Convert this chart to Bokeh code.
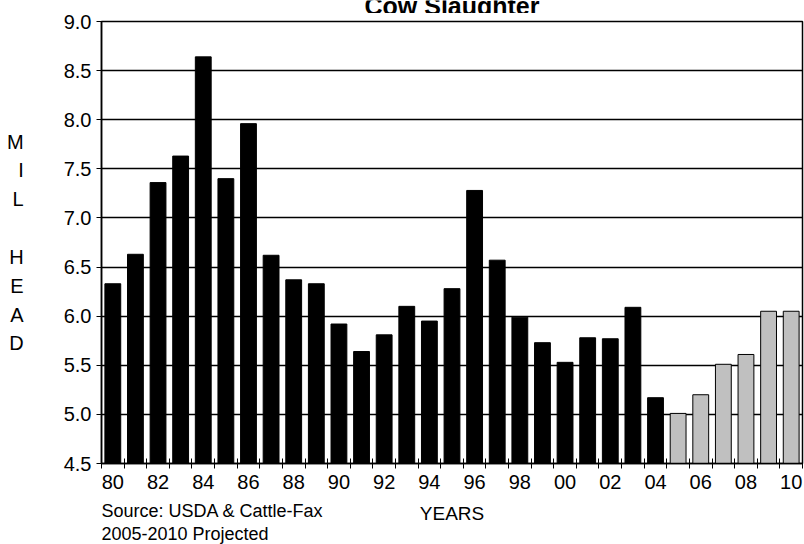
from bokeh.plotting import figure
from bokeh.layouts import column
from bokeh.models import Range1d, FixedTicker, Label, ColumnDataSource, PrintfTickFormatter
from bokeh.embed import file_html
from bokeh.resources import INLINE

# ---------------- data ----------------
actual_years = list(range(1980, 2005))
actual_values = [6.33, 6.63, 7.36, 7.63, 8.64, 7.40, 7.96, 6.62, 6.37, 6.33,
                 5.92, 5.64, 5.81, 6.10, 5.95, 6.28, 7.28, 6.57, 5.99, 5.73,
                 5.53, 5.78, 5.77, 6.09, 5.17]
proj_years = list(range(2005, 2011))
proj_values = [5.01, 5.20, 5.51, 5.61, 6.05, 6.05]
label_years = list(range(1980, 2011, 2))
tick_labels = ["80", "82", "84", "86", "88", "90", "92", "94", "96", "98",
               "00", "02", "04", "06", "08", "10"]
y_ticks = [4.5, 5.0, 5.5, 6.0, 6.5, 7.0, 7.5, 8.0, 8.5, 9.0]
title_text = "Cow Slaughter"
ylabel_letters = ["M", "I", "L", "", "H", "E", "A", "D"]
xlabel_text = "YEARS"
source_lines = ["Source:  USDA & Cattle-Fax", "2005-2010 Projected"]

all_years = actual_years + proj_years
Y0, Y1 = y_ticks[0], y_ticks[-1]
X0, X1 = all_years[0] - 0.5, all_years[-1] + 0.5

FONT = "Liberation Sans"
W = 804
H_HEAD, H_MAIN, H_FOOT = 13, 483, 48
FRAME_L, FRAME_R = 101, 802   # frame edges shared by the stacked figures


def strip(height):
    s = figure(width=W, height=height, output_backend="svg", toolbar_location=None,
               x_range=Range1d(FRAME_L, FRAME_R), y_range=Range1d(0, height),
               x_axis_type=None, y_axis_type=None,
               min_border_left=FRAME_L, min_border_right=W - FRAME_R,
               min_border_top=0, min_border_bottom=0)
    s.outline_line_color = None
    s.background_fill_color = "white"
    s.border_fill_color = "white"
    s.grid.visible = False
    return s


# ---------------- header (title, cut at the top like the original) ----------------
hdr = strip(H_HEAD)
hdr.add_layout(Label(x=(FRAME_L + FRAME_R) / 2, y=H_HEAD - 5, text=title_text,
                     text_font=FONT, text_font_size="25px", text_font_style="bold",
                     text_align="center", text_baseline="middle", text_color="black"))

# ---------------- main chart ----------------
p = figure(width=W, height=H_MAIN, output_backend="svg", toolbar_location=None,
           x_range=Range1d(X0, X1), y_range=Range1d(Y0, Y1),
           min_border_left=FRAME_L, min_border_right=W - FRAME_R, min_border_top=8,
           min_border_bottom=33)
p.background_fill_color = "white"
p.border_fill_color = "white"
p.outline_line_color = "black"
p.outline_line_width = 1.5

src_a = ColumnDataSource(dict(x=actual_years, top=actual_values))
src_p = ColumnDataSource(dict(x=proj_years, top=proj_values))
p.vbar(x="x", top="top", bottom=Y0, width=0.7, source=src_a,
       fill_color="black", line_color="black", line_width=1)
p.vbar(x="x", top="top", bottom=Y0, width=0.7, source=src_p,
       fill_color="#C0C0C0", line_color="black", line_width=1)

# x axis: labels at even-year centers, ticks at category boundaries
xa = p.xaxis[0]
xa.ticker = FixedTicker(ticks=label_years,
                        minor_ticks=[y - 0.5 for y in all_years] + [X1])
xa.major_label_overrides = {y: t for y, t in zip(label_years, tick_labels)}
xa.major_tick_in = 0
xa.major_tick_out = 0
xa.minor_tick_in = 5
xa.minor_tick_out = 5
xa.minor_tick_line_color = "black"
xa.axis_line_color = "black"
xa.axis_line_width = 1.5
xa.major_label_text_font = FONT
xa.major_label_text_font_size = "20px"
xa.major_label_text_color = "black"
xa.major_label_standoff = 6

ya = p.yaxis[0]
ya.ticker = FixedTicker(ticks=y_ticks)
ya.formatter = PrintfTickFormatter(format="%.1f")
ya.major_tick_in = 0
ya.major_tick_out = 5
ya.minor_tick_line_color = None
ya.major_tick_line_color = "black"
ya.axis_line_color = "black"
ya.axis_line_width = 1.5
ya.major_label_text_font = FONT
ya.major_label_text_font_size = "20px"
ya.major_label_text_color = "black"
ya.major_label_standoff = 5
ya.axis_label = "\n".join(ylabel_letters)
ya.axis_label_orientation = "horizontal"
ya.axis_label_text_font = FONT
ya.axis_label_text_font_size = "20px"
ya.axis_label_text_font_style = "normal"
ya.axis_label_text_color = "black"
ya.axis_label_text_line_height = 1.31
ya.axis_label_text_align = "center"
ya.axis_label_standoff = 37

p.xgrid.grid_line_color = None
p.ygrid.ticker = FixedTicker(ticks=y_ticks)
p.ygrid.grid_line_color = "black"
p.ygrid.grid_line_width = 1.5
p.ygrid.level = "underlay"

# ---------------- footer (x-axis title and source notes) ----------------
ftr = strip(H_FOOT)
ftr.add_layout(Label(x=(FRAME_L + FRAME_R) / 2, y=H_FOOT - 17, text=xlabel_text,
                     text_font=FONT, text_font_size="19px",
                     text_align="center", text_baseline="middle", text_color="black"))
for i, line in enumerate(source_lines):
    ftr.add_layout(Label(x=FRAME_L, y=H_FOOT - 14 - 23 * i, text=line,
                         text_font=FONT, text_font_size="18px",
                         text_align="left", text_baseline="middle",
                         text_color="black"))

layout = column(hdr, p, ftr, spacing=0)
open("out.html", "w").write(file_html(layout, INLINE))
